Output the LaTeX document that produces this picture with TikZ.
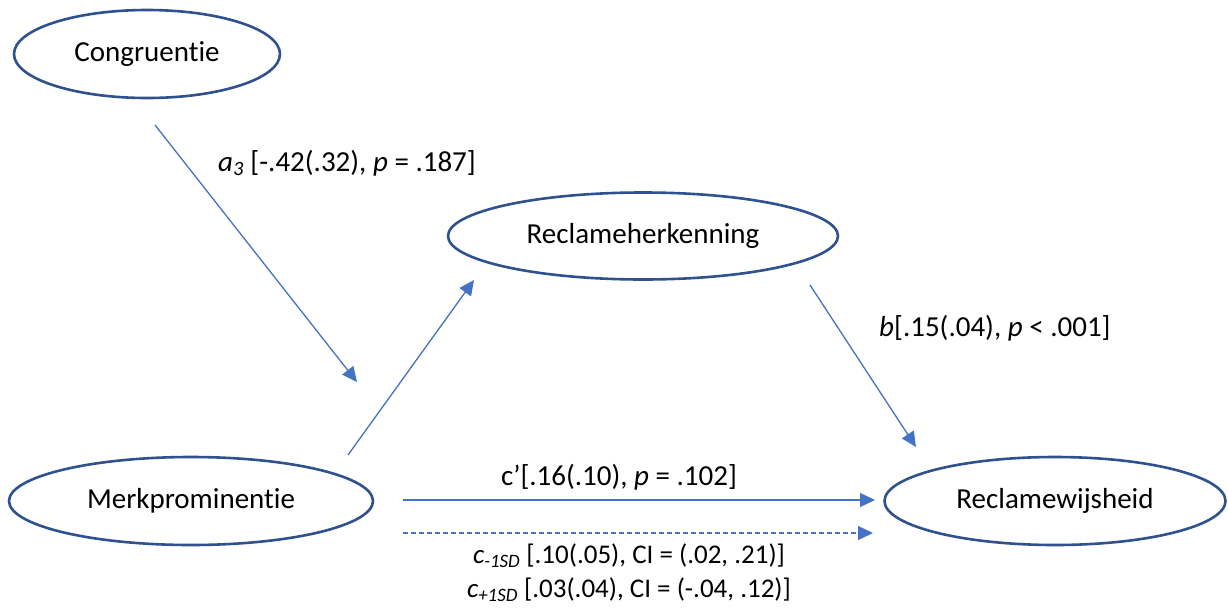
\documentclass[tikz,border=0pt]{standalone}
\usepackage{fontspec}
\setmainfont{Carlito}[Ligatures=NoCommon]
\usepackage{tikz}
\usetikzlibrary{arrows.meta,shapes.geometric}
\definecolor{pathblue}{RGB}{68,114,196}
\definecolor{rimblue}{RGB}{47,82,143}
\tikzset{
  var/.style={ellipse,draw=rimblue,line width=2.6pt,inner sep=0pt},
  path/.style={pathblue,line width=1.3pt,-{Triangle[length=15pt,width=14pt]}},
  lbl/.style={inner sep=0pt,font=\fontsize{29}{34}\selectfont},
  cilbl/.style={inner sep=0pt,font=\fontsize{27}{32}\selectfont}
}

\begin{document}
\begin{tikzpicture}[x=1pt,y=-1pt,font=\fontsize{29}{34}\selectfont]
        \useasboundingbox (0,0) rectangle (1228,608);

        % Variables
        \node[var,minimum width=266pt,minimum height=88pt] (cong) at (147,54) {Congruentie};
        \node[var,minimum width=390pt,minimum height=87pt] (herk) at (643,236) {Reclameherkenning};
        \node[var,minimum width=364pt,minimum height=88pt] (merk) at (191,501) {Merkprominentie};
        \node[var,minimum width=341pt,minimum height=88pt] (wijs) at (1055,501) {Reclamewijsheid};

        % Free ends of the paths
        \coordinate (congout) at (155,125);
        \coordinate (modin) at (357,382);
        \coordinate (merkup) at (348,455);
        \coordinate (herkin) at (474,280);
        \coordinate (herkout) at (810,285);
        \coordinate (wijsin) at (916,447);
        \coordinate (merkout) at (403,500);
        \coordinate (wijsleft) at (875,500);
        \coordinate (merkdash) at (403,533);
        \coordinate (wijsdash) at (873,533);

        % Moderation path
        \draw[path] (congout)--(modin);
        \node[lbl,anchor=west] (alab) at (218,163)
          {\textit{a}\textsubscript{\textit{3}} [-.42(.32), \textit{p} = .187]};

        % Indirect path
        \draw[path] (merkup)--(herkin);
        \draw[path] (herkout)--(wijsin);
        \node[lbl,anchor=west] (blab) at (879,328)
          {\textit{b}[.15(.04), \textit{p} < .001]};

        % Direct paths
        \draw[path] (merkout)--(wijsleft);
        \node[lbl] (clab) at (619,477) {c’[.16(.10), \textit{p} = .102]};
        \draw[path,dash pattern=on 5pt off 3pt] (merkdash)--(wijsdash);
        \node[cilbl] (cmin) at (629,556)
          {\textit{c\textsubscript{-1SD}} [.10(.05), CI = (.02, .21)]};
        \node[cilbl] (cplus) at (629,590)
          {\textit{c\textsubscript{+1SD}} [.03(.04), CI = (-.04, .12)]};
      \end{tikzpicture}
\end{document}
